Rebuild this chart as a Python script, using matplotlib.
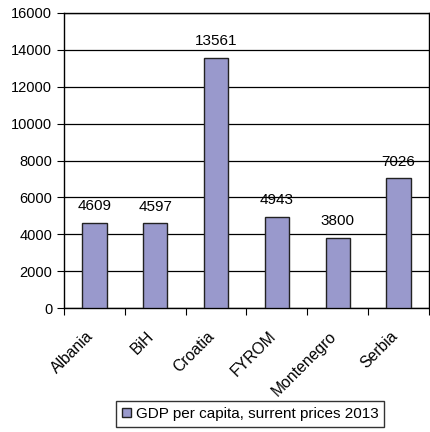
import numpy as np
import matplotlib
matplotlib.use("Agg")
import matplotlib.pyplot as plt
import matplotlib.transforms as mtransforms

plt.rcParams['font.family'] = ['Liberation Sans', 'DejaVu Sans']

countries = ["Albania", "BiH", "Croatia", "FYROM", "Montenegro", "Serbia"]
gdp = [4609, 4597, 13561, 4943, 3800, 7026]
series_name = "GDP per capita, surrent prices 2013"

fig = plt.figure(figsize=(4.30, 4.32), dpi=100)
ax = fig.add_axes([64/430, 1 - 308/432, 365/430, 295/432])

x = np.arange(len(countries))
bars = ax.bar(x, gdp, width=0.4, color="#9999CC", edgecolor="#222222", linewidth=1,
              label=series_name, zorder=3)
for xi, v in zip(x, gdp):
    ax.text(xi, v + 520, str(v), ha="center", va="bottom", fontsize=11)

ax.set_xlim(-0.5, len(countries) - 0.5)
ax.set_ylim(0, 16000)
ax.set_yticks(np.arange(0, 16001, 2000))
ax.yaxis.grid(True, color="black", linewidth=0.9, zorder=0)
ax.tick_params(axis="y", labelsize=10.5, length=5, direction="out")

# ticks between categories, labels at centres
ax.set_xticks(np.arange(-0.5, len(countries), 1.0))
ax.set_xticklabels([])
ax.set_xticks(x, minor=True)
ax.set_xticklabels(countries, minor=True, rotation=45, ha="right",
                   rotation_mode="anchor", fontsize=11.3)
ax.tick_params(axis="x", which="major", length=5)
ax.tick_params(axis="x", which="minor", length=0, pad=15)
shift = mtransforms.ScaledTranslation(-9/100, 0, fig.dpi_scale_trans)
for lab in ax.get_xticklabels(minor=True):
    lab.set_transform(lab.get_transform() + shift)

for s in ax.spines.values():
    s.set_color("black")
    s.set_linewidth(1)

fig.legend(handles=[bars], loc="center", bbox_to_anchor=(250/430, 1 - 414/432),
           frameon=True, fancybox=False, edgecolor="black", fontsize=11,
           handlelength=0.6, handleheight=0.6, handletextpad=0.3, borderpad=0.4)

fig.savefig("out.png", dpi=100)
